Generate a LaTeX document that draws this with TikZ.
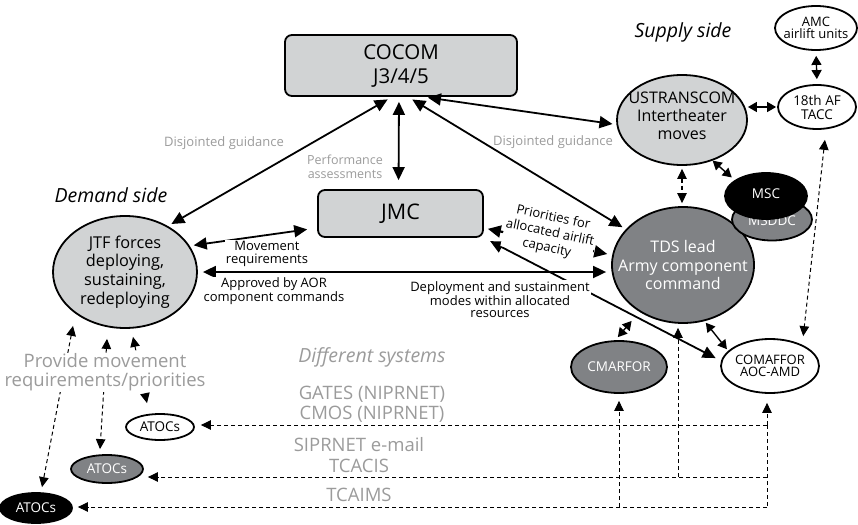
\documentclass[tikz,border=0pt]{standalone}
\usepackage{fontspec}
\setmainfont{Open Sans}
\usetikzlibrary{arrows.meta,shapes.geometric}
\definecolor{lightfill}{HTML}{D1D3D4}
\definecolor{darkfill}{HTML}{808285}
\definecolor{lblgray}{HTML}{9B9B9B}
\newcommand{\fsz}[2]{\fontsize{#1}{#2}\selectfont}
\begin{document}
\begin{tikzpicture}[x=1pt,y=-1pt,
  ell/.style={ellipse, draw, line width=1.8pt, inner sep=0pt},
  box/.style={rectangle, rounded corners=7pt, draw, line width=1.8pt, fill=lightfill, align=center},
  arr/.style={line width=1.8pt, {Triangle[length=13pt,width=12pt]}-{Triangle[length=13pt,width=12pt]}},
  sarr/.style={line width=1.4pt, {Triangle[length=9pt,width=10pt]}-{Triangle[length=9pt,width=10pt]}},
  darr/.style={line width=1pt, dash pattern=on 4pt off 3pt, {Triangle[length=10pt,width=9.5pt]}-{Triangle[length=10pt,width=9.5pt]}},
  dline/.style={line width=1pt, dash pattern=on 4pt off 3pt},
  dto/.style={dline, -{Triangle[length=10pt,width=9.5pt]}},
  glbl/.style={text=lblgray, align=center, inner sep=1pt},
  blbl/.style={text=black, align=center, inner sep=1pt, fill=white},
  txt/.style={align=center, inner sep=0pt},
]
\useasboundingbox (0,0) rectangle (858,524);

% main nodes
\node[box, minimum width=232pt, minimum height=61pt, font=\fsz{20.5}{24}] (cocom) at (401,65.5) {COCOM\\J3/4/5};
\node[box, minimum width=165pt, minimum height=47pt, font=\fsz{21.5}{24}] (jmc) at (400.5,213.5) {JMC};

\node[ell, fill=lightfill, minimum width=144pt, minimum height=112pt] (jtf) at (125,272) {};
\node[txt, font=\fsz{16.3}{18.7}] (jtfT) at (jtf) {JTF forces\\deploying,\\sustaining,\\redeploying};

\node[ell, fill=darkfill, minimum width=142pt, minimum height=116pt] (tds) at (683,265) {};
\node[txt, text=white, font=\fsz{16}{18.5}] (tdsT) at (tds) {TDS lead\\Army component\\command};

\node[ell, fill=lightfill, minimum width=130pt, minimum height=90pt] (ust) at (682,120) {};
\node[txt, font=\fsz{16}{18}] (ustT) at ([yshift=4pt]ust.center) {USTRANSCOM\\Intertheater\\moves};

\node[ell, fill=white, minimum width=82pt, minimum height=44pt] (amc) at (816,28) {};
\node[txt, font=\fsz{13}{12.5}] (amcT) at (amc) {AMC\\airlift units};

\node[ell, fill=white, minimum width=78pt, minimum height=44pt] (tacc) at (817,107) {};
\node[txt, font=\fsz{13.5}{14}] (taccT) at (tacc) {18th AF\\TACC};

\node[ell, fill=darkfill, minimum width=80pt, minimum height=42pt] (msddc) at (772,219.5) {};
\node[txt, text=white, font=\fsz{13.5}{14}] (msddcT) at (772,221) {MSDDC};
\node[ell, fill=black, minimum width=82pt, minimum height=46pt] (msc) at (766,196) {};
\node[txt, text=white, font=\fsz{13.5}{14}] (mscT) at (766,194) {MSC};

\node[ell, fill=darkfill, minimum width=96pt, minimum height=52pt] (cmarfor) at (619,367) {};
\node[txt, text=white, font=\fsz{13.5}{14}] (cmarforT) at (cmarfor) {CMARFOR};

\node[ell, fill=white, minimum width=98pt, minimum height=54pt] (comaffor) at (770,366) {};
\node[txt, font=\fsz{13}{11.5}] (comafforT) at (comaffor) {COMAFFOR\\AOC-AMD};

\node[ell, fill=white, minimum width=68pt, minimum height=26pt] (atoc1) at (160,427) {};
\node[txt, font=\fsz{13.5}{14}] (atoc1T) at (atoc1) {ATOCs};
\node[ell, fill=darkfill, minimum width=72pt, minimum height=28pt] (atoc2) at (107,469) {};
\node[txt, text=white, font=\fsz{13.5}{14}] (atoc2T) at (atoc2) {ATOCs};
\node[ell, fill=black, minimum width=72pt, minimum height=30pt] (atoc3) at (36,508) {};
\node[txt, text=white, font=\fsz{13.5}{14}] (atoc3T) at (atoc3) {ATOCs};

% connectors from COCOM
\draw[arr, shorten <=5pt, shorten >=4pt] ([xshift=-9pt]cocom.south) -- (jtf.47);
\draw[arr, shorten <=5pt, shorten >=9pt] ([xshift=-2pt]cocom.south) -- ([xshift=-2pt]jmc.north);
\draw[arr, shorten <=5pt, shorten >=4pt] ([xshift=7pt]cocom.south) -- (tds.148);
\draw[arr, shorten <=5pt, shorten >=4pt] ([xshift=22pt]cocom.south) -- (ust.184);

% JTF, JMC, TDS
\draw[arr, shorten <=4pt, shorten >=10pt] (jtf.22) -- ([yshift=-14.5pt]jmc.west);
\draw[arr, shorten <=5pt, shorten >=5pt] (jtf.east) -- (jtf.east -| tds.west);
\draw[arr, line width=2.2pt, dash pattern=on 6pt off 3pt, shorten <=4pt, shorten >=5pt] ([yshift=-14.5pt]jmc.east) -- (tds.172);
\draw[arr, shorten <=7pt, shorten >=6pt] (jmc.south east) -- (comaffor.174);

% around TDS and supply side
\draw[sarr, shorten <=12pt, shorten >=4pt] (tds.227) -- (cmarfor.98);
\draw[sarr, shorten <=2pt, shorten >=2pt] (tds.291) -- (comaffor.160);
\draw[darr, line width=1.2pt, shorten <=3pt, shorten >=3pt] (ust.south) -- (ust.south |- tds.north);
\draw[sarr, shorten >=4pt] (ust.-53) -- (msc.153);
\draw[sarr, shorten <=1pt] (tacc.west) -- (tacc.west -| ust.east);
\draw[sarr, shorten <=5pt, shorten >=5pt] (amc.south) -- (tacc.north);
\draw[darr, shorten <=10pt, shorten >=2pt] ([xshift=9pt]tacc.south) -- ([xshift=33pt]comaffor.north);

% JTF to ATOCs
\draw[darr] ([xshift=-52pt,yshift=3pt]jtf.south) -- ([xshift=6pt,yshift=5pt]atoc3.north);
\draw[darr] ([xshift=-18pt,yshift=-10pt]jtf.south) -- ([xshift=-7pt,yshift=5pt]atoc2.north);
\draw[darr] ([xshift=8pt,yshift=-8pt]jtf.south) -- ([xshift=-13pt,yshift=10pt]atoc1.north);

% systems network
\coordinate (r1) at (767,425);
\coordinate (r2) at (767,477);
\coordinate (r3) at (767,507);
\draw[dline] (r1) -- (r3);
\draw[dto, shorten >=9pt] (r1) -- ([xshift=-3pt]comaffor.south);
\draw[dto, shorten >=6pt] (r1) -- (atoc1.east |- r1);
\draw[dto, shorten >=4pt] (r2) -- (atoc2.east |- r2);
\draw[dto, shorten >=5pt] (r3) -- (atoc3.east |- r3);
\draw[dto, shorten >=7pt] (cmarfor.south |- r3) -- (cmarfor.south);
\draw[dto, shorten >=4pt] ([xshift=-5pt]tds.south |- r2) -- ([xshift=-5pt]tds.south);

% labels
\node[glbl, font=\fsz{13}{14}] (dg1) at (224,143) {Disjointed guidance};
\node[glbl, font=\fsz{13}{14}] (dg2) at (553,142) {Disjointed guidance};
\node[glbl, font=\fsz{12.5}{14}] (pa) at (345,167) {Performance\\assessments};
\node[blbl, font=\fsz{13}{13.5}] (mr) at (267,254) {Movement\\requirements};
\node[blbl, font=\fsz{13}{12.5}] (aor) at (274,291) {Approved by AOR\\component commands};
\node[blbl, font=\fsz{13}{12.5}] (dep) at (500,299.5) {Deployment and sustainment\\modes within allocated\\resources};
\node[blbl, font=\fsz{13}{15.5}, rotate=-12] (pri) at (550,233) {Priorities for\\allocated airlift\\capacity};

\node[font=\itshape\fsz{19.5}{20}] (dem) at (111,195) {Demand side};
\node[font=\itshape\fsz{19.5}{20}] (sup) at (683,32) {Supply side};
\node[glbl, font=\itshape\fsz{19.5}{20}] (dif) at (372,357) {Different systems};
\node[glbl, font=\fsz{18.5}{19.5}] (gates) at (372,404.5) {GATES (NIPRNET)\\CMOS (NIPRNET)};
\node[glbl, font=\fsz{18.5}{21}] (sip) at (359,455.5) {SIPRNET e-mail\\TCACIS};
\node[glbl, font=\fsz{18.5}{20}] (tca) at (359,495) {TCAIMS};
\node[glbl, fill=white, font=\fsz{18.5}{19}] (prov) at (105,372.5) {Provide movement\\requirements/priorities};
\end{tikzpicture}
\end{document}
